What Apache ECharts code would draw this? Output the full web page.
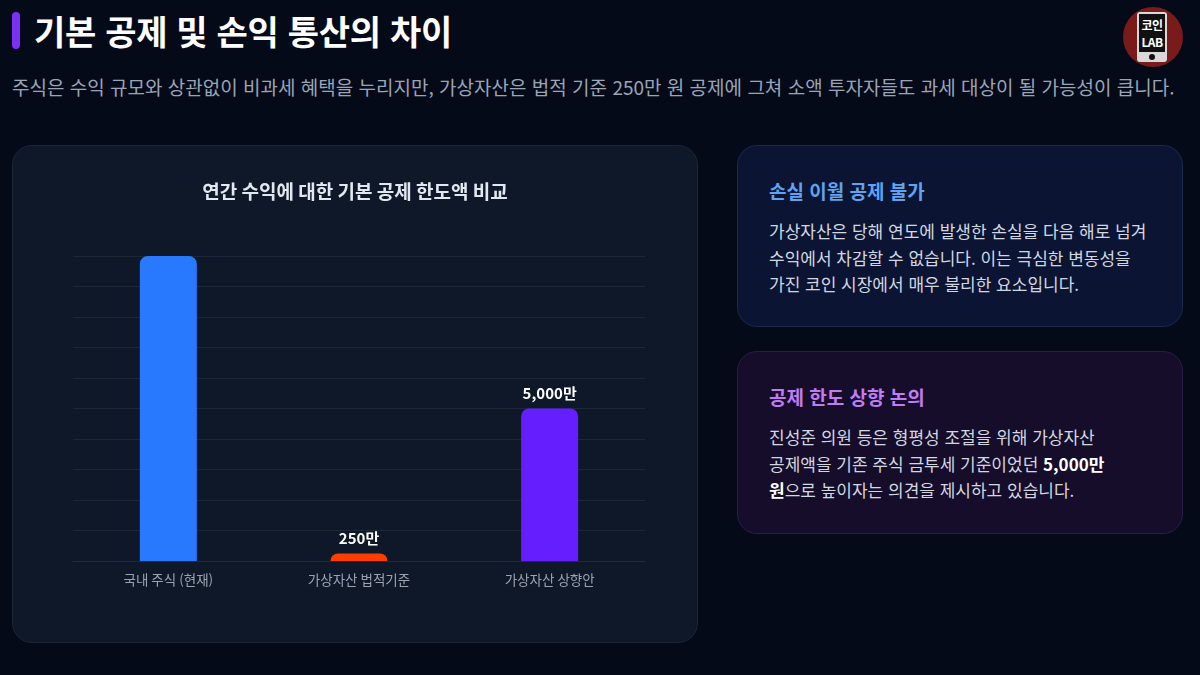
<!DOCTYPE html>
<html lang="ko">
<head>
<meta charset="utf-8">
<script src="https://cdn.jsdelivr.net/npm/echarts@6/dist/echarts.min.js"></script>
<style>
  html, body { margin:0; padding:0; width:1200px; height:675px; background:#050a18; overflow:hidden;
    font-family:"Noto Sans CJK KR","Noto Sans",sans-serif; }
  .accent { position:absolute; left:12px; top:12px; width:8px; height:37px; border-radius:4px; background:#7b2ff7; }
  .title { position:absolute; left:34px; top:7px; font-size:34px; font-weight:700; color:#ffffff; line-height:48px; letter-spacing:-0.3px; }
  .sub { position:absolute; left:12px; top:73px; font-size:19px; color:#9aa5b8; line-height:28px; white-space:nowrap; }
  .logo { position:absolute; left:1123px; top:7px; width:60px; height:60px; border-radius:50%; background:#7a1b1b; }
  .phone { position:absolute; left:14px; top:5px; width:30px; height:50px; border-radius:3px; background:#d9d9d9; }
  .screen { position:absolute; left:2px; top:2px; width:26px; height:38px; background:#111; color:#fff;
    font-size:12px; font-weight:700; line-height:17px; text-align:center; padding-top:2px; box-sizing:border-box; letter-spacing:-0.5px; }
  .dot { position:absolute; left:12px; top:42px; width:6px; height:6px; border-radius:50%; background:#111; }
  .card { position:absolute; box-sizing:border-box; border-radius:20px; }
  .left { left:12px; top:145px; width:686px; height:498px; background:#0f1829; border:1px solid #1c2637; }
  .c1 { left:737px; top:145px; width:446px; height:182px; background:#0b1533; border:1px solid #1b2a4d; }
  .c2 { left:737px; top:351px; width:446px; height:183px; background:#150d2a; border:1px solid #2a1d48; }
  .ct { position:absolute; left:31px; top:31px; font-size:19px; font-weight:700; line-height:28px; }
  .cb { position:absolute; left:31px; top:72px; font-size:17px; color:#d3d8e0; line-height:26.7px; white-space:nowrap; }
  .cb b { color:#ffffff; }
  #chart { position:absolute; left:12px; top:145px; width:686px; height:498px; }
</style>
</head>
<body>
<div class="accent"></div>
<div class="title">기본 공제 및 손익 통산의 차이</div>
<div class="sub">주식은 수익 규모와 상관없이 비과세 혜택을 누리지만, 가상자산은 법적 기준 250만 원 공제에 그쳐 소액 투자자들도 과세 대상이 될 가능성이 큽니다.</div>
<div class="logo"><div class="phone"><div class="screen">코인<br>LAB</div><div class="dot"></div></div></div>

<div class="card left"></div>
<div id="chart"></div>

<div class="card c1">
  <div class="ct" style="color:#5fa3f3">손실 이월 공제 불가</div>
  <div class="cb">가상자산은 당해 연도에 발생한 손실을 다음 해로 넘겨<br>수익에서 차감할 수 없습니다. 이는 극심한 변동성을<br>가진 코인 시장에서 매우 불리한 요소입니다.</div>
</div>
<div class="card c2">
  <div class="ct" style="color:#c17cf5">공제 한도 상향 논의</div>
  <div class="cb">진성준 의원 등은 형평성 조절을 위해 가상자산<br>공제액을 기존 주식 금투세 기준이었던 <b>5,000만</b><br><b>원</b>으로 높이자는 의견을 제시하고 있습니다.</div>
</div>

<script>
const categories = ['국내 주식 (현재)', '가상자산 법적기준', '가상자산 상향안'];
const values = [10000, 250, 5000]; // 단위: 만 원
const valueLabels = ['', '250만', '5,000만'];
const barColors = ['#2979ff', '#ff3d00', '#651fff'];

const chart = echarts.init(document.getElementById('chart'), null, { renderer: 'canvas' });
chart.setOption({
  backgroundColor: 'transparent',
  animation: false,
  title: {
    text: '연간 수익에 대한 기본 공제 한도액 비교',
    left: 'center',
    top: 32,
    textStyle: { color: '#e2e8f0', fontSize: 19, fontWeight: 'bold', fontFamily: 'Noto Sans CJK KR' }
  },
  grid: { left: 61, right: 53, top: 111, bottom: 82 },
  xAxis: {
    type: 'category',
    data: categories,
    axisLine: { show: true, lineStyle: { color: '#1f2a3c' } },
    axisTick: { show: false },
    axisLabel: { color: '#9ca3af', fontSize: 13.5, margin: 12, fontFamily: 'Noto Sans CJK KR' }
  },
  yAxis: {
    type: 'value',
    min: 0, max: 10000, interval: 1000,
    axisLabel: { show: false },
    axisLine: { show: false },
    axisTick: { show: false },
    splitLine: { lineStyle: { color: '#1d2738', width: 1 } }
  },
  series: [{
    type: 'bar',
    barWidth: 57,
    data: values.map((v, i) => ({
      value: v,
      itemStyle: { color: barColors[i], borderRadius: [8, 8, 0, 0] },
      label: { show: valueLabels[i] !== '' }
    })),
    label: {
      position: 'top',
      distance: 8,
      color: '#ffffff',
      fontSize: 15,
      fontWeight: 'bold',
      fontFamily: 'Noto Sans CJK KR',
      formatter: p => valueLabels[p.dataIndex]
    }
  }]
});
</script>
</body>
</html>
